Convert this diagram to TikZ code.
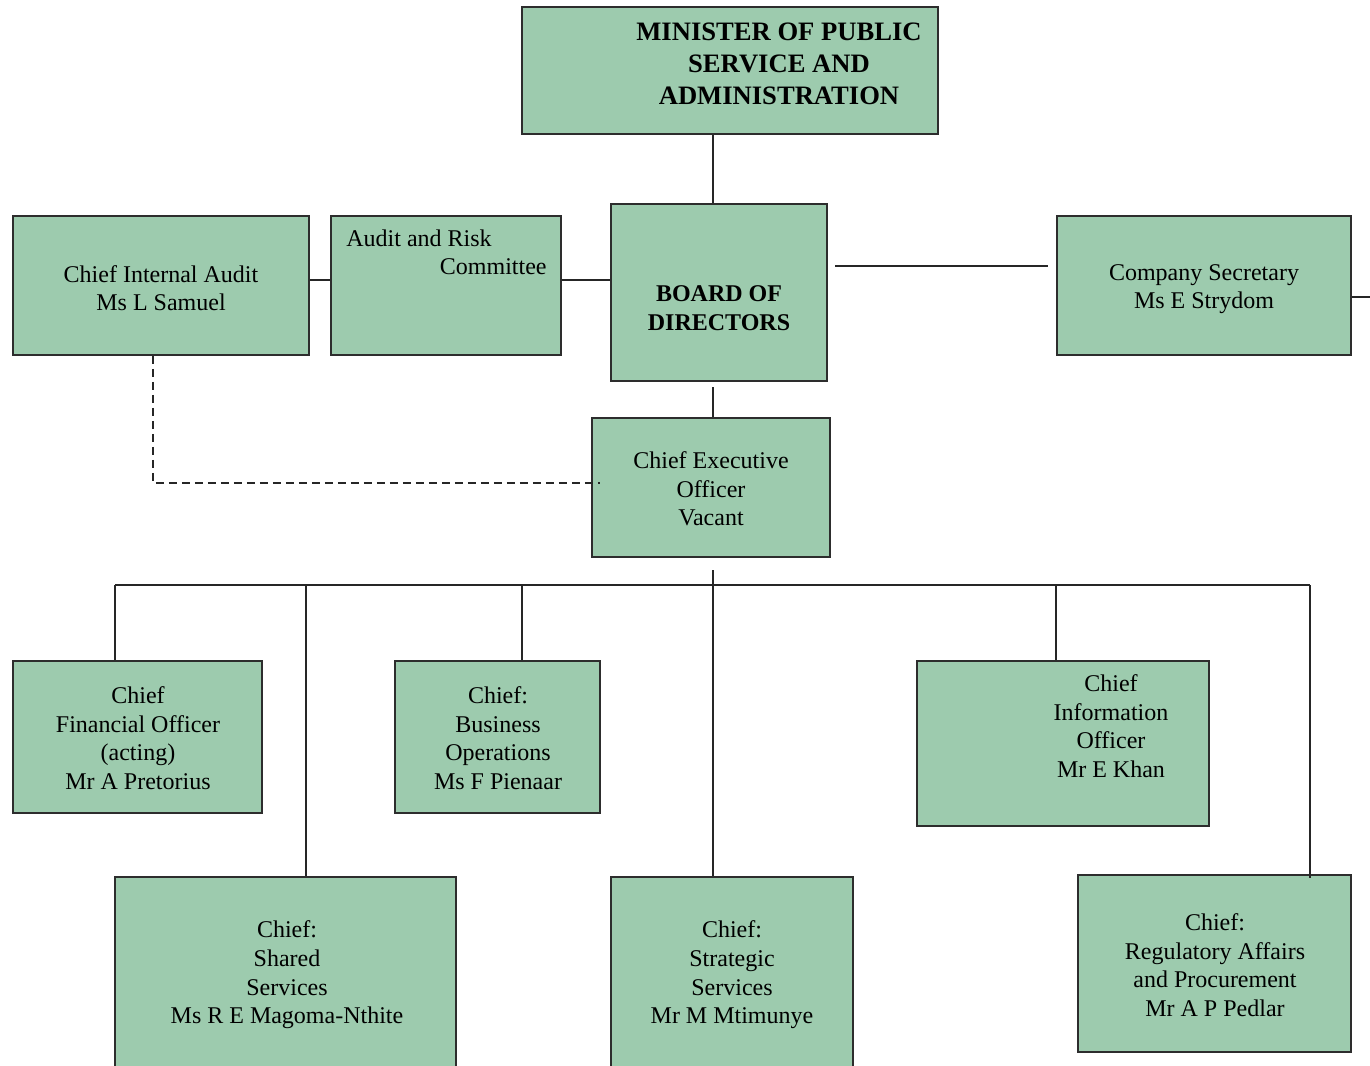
\documentclass[tikz,border=0pt]{standalone}
\usepackage{fontspec}
\setmainfont{Liberation Serif}
\usetikzlibrary{fit}
\definecolor{boxfill}{RGB}{157,203,174}
\definecolor{boxline}{RGB}{45,45,45}
\tikzset{
  orgbox/.style={draw=boxline, fill=boxfill, line width=0.75pt, inner sep=0pt, rectangle},
  txt/.style={align=center, inner sep=0pt, font=\fontsize{12}{14.3}\selectfont},
  btxt/.style={align=center, inner sep=0pt, font=\fontsize{12}{14.5}\selectfont\bfseries},
  conn/.style={draw=black!85, line width=0.6pt},
  dashconn/.style={conn, dash pattern=on 4pt off 2.5pt}
}
\begin{document}
\begin{tikzpicture}[x=0.5pt, y=-0.5pt]
\useasboundingbox (0,0) rectangle (1370,1065);
\fill[white] (0,0) rectangle (1370,1065);

% boxes
\node[orgbox, fit={(522,7) (938,134)}] (minister) {};
\node[orgbox, fit={(611,204) (827,381)}] (board) {};
\node[orgbox, fit={(13,216) (309,355)}] (cia) {};
\node[orgbox, fit={(331,216) (561,355)}] (arc) {};
\node[orgbox, fit={(1057,216) (1351,355)}] (cosec) {};
\node[orgbox, fit={(592,418) (830,557)}] (ceo) {};
\node[orgbox, fit={(13,661) (262,813)}] (cfo) {};
\node[orgbox, fit={(395,661) (600,813)}] (cbo) {};
\node[orgbox, fit={(917,661) (1209,826)}] (cio) {};
\node[orgbox, fit={(115,877) (456,1080)}] (css) {};
\node[orgbox, fit={(611,877) (853,1080)}] (cstr) {};
\node[orgbox, fit={(1078,875) (1351,1052)}] (creg) {};

% texts
\node[btxt, font=\fontsize{13.3}{16}\selectfont\bfseries] (tmin) at (779,64) {MINISTER OF PUBLIC\\SERVICE AND\\ADMINISTRATION};
\node[btxt] (tboard) at (719,308) {BOARD OF\\DIRECTORS};
\node[txt] (tcia) at (161,288) {Chief Internal Audit\\Ms L Samuel};
\node[txt, anchor=west] (tarc1) at (346,238) {Audit and Risk};
\node[txt, anchor=east] (tarc2) at (547,267) {Committee};
\node[txt] (tcosec) at (1204,289) {Company Secretary\\Ms E Strydom};
\node[txt] (tceo) at (711,489) {Chief Executive\\Officer\\Vacant};
\node[txt] (tcfo) at (138,738) {Chief\\Financial Officer\\(acting)\\Mr A Pretorius};
\node[txt] (tcbo) at (498,738) {Chief:\\Business\\Operations\\Ms F Pienaar};
\node[txt] (tcio) at (1111,726) {Chief\\Information\\Officer\\Mr E Khan};
\node[txt] (tcss) at (287,975) {Chief:\\Shared\\Services\\Ms R E Magoma-Nthite};
\node[txt] (tcstr) at (732,975) {Chief:\\Strategic\\Services\\Mr M Mtimunye};
\node[txt] (tcreg) at (1215,965) {Chief:\\Regulatory Affairs\\and Procurement\\Mr A P Pedlar};

% free-end coordinates
\coordinate (bl) at (835,266);
\coordinate (br) at (1048,266);
\coordinate (stub) at (1375,297);
\coordinate (bdown) at (713,387);
\coordinate (ceodown) at (713,570);
\coordinate (busl) at (115,585);
\coordinate (busr) at (1310,585);
\coordinate (dcorner) at (153,483);
\coordinate (dend) at (600,483);

% connectors
\draw[conn] (713,0 |- minister.south) -- (713,0 |- board.north);
\draw[conn] (cia.east |- 0,280) -- (arc.west |- 0,280);
\draw[conn] (arc.east |- 0,280) -- (board.west |- 0,280);
\draw[conn] (bl) -- (br);
\draw[conn] (cosec.east |- 0,297) -- (stub);
\draw[conn] (bdown) -- (713,0 |- ceo.north);
\draw[dashconn] (153,0 |- cia.south) -- (dcorner) -- (dend);
\draw[conn] (busl) -- (busr);
\draw[conn] (ceodown) -- (713,0 |- cstr.north);
\draw[conn] (busl) -- (115,0 |- cfo.north);
\draw[conn] (306,585) -- (306,0 |- css.north);
\draw[conn] (522,585) -- (522,0 |- cbo.north);
\draw[conn] (1056,585) -- (1056,0 |- cio.north);
\draw[conn] (busr) -- (1310,878);
\end{tikzpicture}
\end{document}
